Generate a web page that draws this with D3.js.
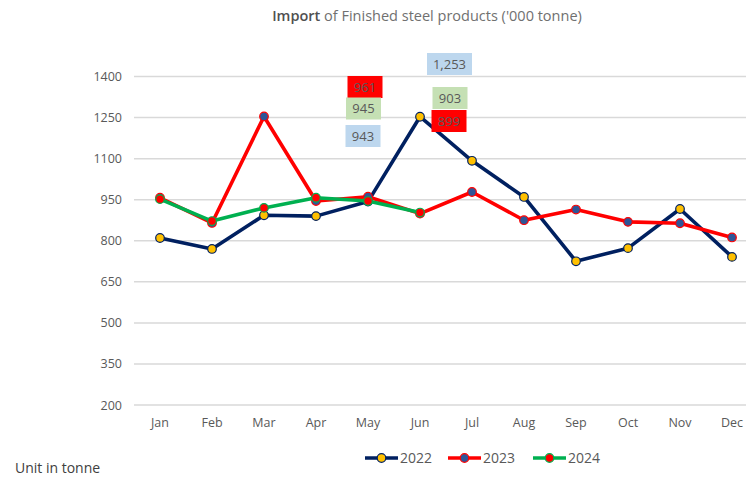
<!DOCTYPE html>
<html>
<head>
<meta charset="utf-8">
<script src="https://cdn.jsdelivr.net/npm/d3@7"></script>
<style>
  body { margin: 0; background: #fff; }
  svg { display: block; font-family: "Open Sans", "Noto Sans", sans-serif; }
</style>
</head>
<body>
<svg id="chart" width="746" height="478"></svg>
<script>
const months = ["Jan","Feb","Mar","Apr","May","Jun","Jul","Aug","Sep","Oct","Nov","Dec"];
const yTicks = [200, 350, 500, 650, 800, 950, 1100, 1250, 1400];
const seriesNames = ["2022", "2023", "2024"];
const values2022 = [810, 770, 893, 890, 943, 1253, 1092, 960, 725, 773, 916, 741];
const values2023 = [957, 865, 1254, 945, 961, 899, 978, 875, 914, 869, 864, 812];
const values2024 = [952, 872, 920, 957, 945, 903];
const lineColors = ["#002060", "#FF0000", "#00B050"];
const markerFills = ["#FFC000", "#2F5597", "#FF0000"];
const labelFills = ["#BDD7EE", "#FF0000", "#C5E0B4"];
// data labels: series index, month index
const dataLabels = [
  {s: 1, m: 4}, {s: 2, m: 4}, {s: 0, m: 4},
  {s: 0, m: 5}, {s: 2, m: 5}, {s: 1, m: 5}
];

const svg = d3.select("#chart");
const x = d3.scaleBand().domain(months).range([134, 758]).padding(0);
const y = d3.scaleLinear().domain([200, 1400]).range([405, 76.5]);
const cx = m => x(m) + x.bandwidth() / 2;

// title
const title = svg.append("text").attr("x", 427).attr("y", 21).attr("text-anchor", "middle")
  .attr("font-size", 14.5).attr("fill", "#707070");
title.append("tspan").attr("fill", "#505050").attr("font-weight", 600).text("Import");
title.append("tspan").text(" of Finished steel products ('000 tonne)");

// gridlines
svg.append("g").selectAll("line").data(yTicks).join("line")
  .attr("x1", 134).attr("x2", 746)
  .attr("y1", d => y(d)).attr("y2", d => y(d))
  .attr("stroke", "#d9d9d9").attr("stroke-width", 1.5);

// y axis
const yAxis = svg.append("g").attr("transform", "translate(134,0)")
  .call(d3.axisLeft(y).tickValues(yTicks).tickSize(0).tickPadding(12).tickFormat(d3.format("d")));
yAxis.select(".domain").remove();
yAxis.selectAll("text").attr("font-size", 12.5).attr("fill", "#595959")
  .attr("font-family", "'Open Sans', sans-serif");

// x axis
const xAxis = svg.append("g").attr("transform", "translate(0,405)")
  .call(d3.axisBottom(x).tickSize(0).tickPadding(13));
xAxis.select(".domain").remove();
xAxis.selectAll("text").attr("font-size", 12.5).attr("fill", "#595959")
  .attr("font-family", "'Open Sans', sans-serif");

const allSeries = [values2022, values2023, values2024];
const line = d3.line().x((d, i) => cx(months[i])).y(d => y(d));

allSeries.forEach((vals, si) => {
  const g = svg.append("g");
  g.append("path").datum(vals).attr("d", line).attr("fill", "none")
    .attr("stroke", lineColors[si]).attr("stroke-width", 3.6)
    .attr("stroke-linejoin", "round");
  g.selectAll("circle").data(vals).join("circle")
    .attr("cx", (d, i) => cx(months[i])).attr("cy", d => y(d))
    .attr("r", 4.3).attr("fill", markerFills[si])
    .attr("stroke", lineColors[si]).attr("stroke-width", 1.2);
});

// data labels
const labelPos = {
  "1-4": [365, 87], "2-4": [363.5, 108.5], "0-4": [363, 136],
  "0-5": [449.5, 64], "2-5": [450, 98], "1-5": [449, 121]
};
const fmt = d3.format(",");
dataLabels.forEach(dl => {
  const v = allSeries[dl.s][dl.m];
  const baseX = cx(months[dl.m]);
  const p = labelPos[dl.s + "-" + dl.m];
  const dx = p[0] - cx(months[4 + (dl.m - 4)]);
  const lx = baseX + dx, ly = p[1];
  const txt = fmt(v);
  const w = txt.length > 3 ? 45 : 35;
  svg.append("rect").attr("x", lx - w / 2).attr("y", ly - 11).attr("width", w).attr("height", 22)
    .attr("fill", labelFills[dl.s]);
  svg.append("text").attr("x", lx).attr("y", ly + 4.5).attr("text-anchor", "middle")
    .attr("font-size", 13).attr("fill", "#595959").text(txt);
});

// legend
const legendX = [365, 448, 533];
seriesNames.forEach((name, si) => {
  const lg = svg.append("g").attr("transform", `translate(${legendX[si]},458)`);
  lg.append("line").attr("x1", 0).attr("x2", 33).attr("y1", 0).attr("y2", 0)
    .attr("stroke", lineColors[si]).attr("stroke-width", 3.6);
  lg.append("circle").attr("cx", 16.5).attr("cy", 0).attr("r", 4.3)
    .attr("fill", markerFills[si]).attr("stroke", lineColors[si]).attr("stroke-width", 1.2);
  lg.append("text").attr("x", 35).attr("y", 5).attr("font-size", 14).attr("fill", "#595959")
    .text(name);
});

// unit note
svg.append("text").attr("x", 15).attr("y", 473).attr("font-size", 14).attr("fill", "#404040")
  .text("Unit in tonne");
</script>
</body>
</html>
